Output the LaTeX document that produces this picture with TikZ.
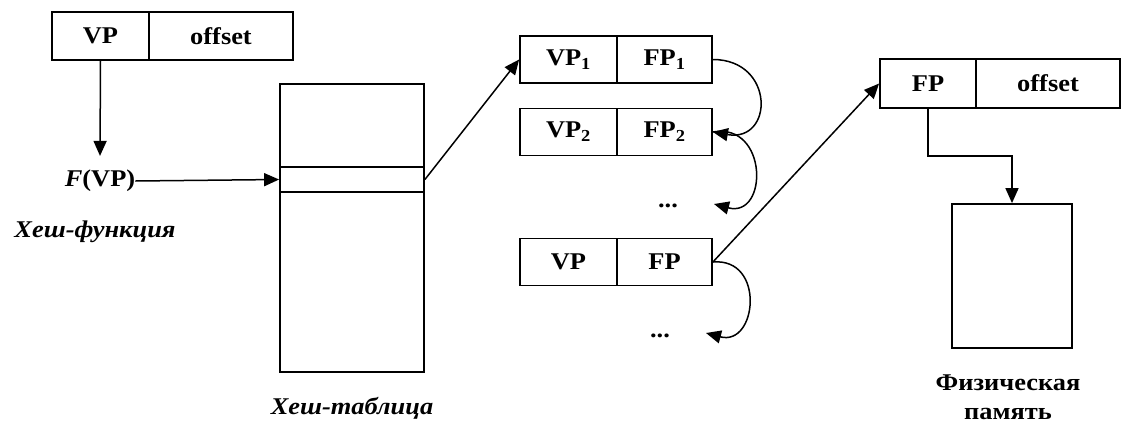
\documentclass[tikz,border=0pt]{standalone}
\usepackage{fontspec}
\setmainfont{Liberation Serif}[FakeStretch=1.1]
\usetikzlibrary{arrows.meta}
\begin{document}
\begin{tikzpicture}[x=1pt,y=-1pt,
  every node/.style={font=\fontsize{24}{29}\selectfont\bfseries},
  cell/.style={draw,line width=1.8pt,inner sep=0pt,minimum height=48pt},
  lbl/.style={inner sep=0pt},
  arr/.style={line width=1.5pt,-{Triangle[length=15pt,width=13pt]}},
  conn/.style={line width=1.5pt}]
\useasboundingbox (0,0) rectangle (1146,440);
% top-left address
\node[cell,minimum width=97pt] (vp) at (100.5,36) {VP};
\node[cell,minimum width=144pt] (off) at (221,36) {offset};
% hash table
\node[cell,minimum width=144pt,minimum height=288pt] (ht) at (352,228) {};
\node[cell,minimum width=144pt,minimum height=25pt] (row) at (352,179.5) {};
\node[lbl] (fvp) at (100,181) {\itshape F\upshape(VP)};
\node[lbl] (hf) at (95,232) {\itshape Хеш-функция};
\node[lbl] (htl) at (352,408) {\itshape Хеш-таблица};
% chain
\node[cell,minimum width=97pt,minimum height=47pt] (vp1) at (568.5,59.5) {VP\textsubscript{1}};
\node[cell,minimum width=95pt,minimum height=47pt] (fp1) at (664.5,59.5) {FP\textsubscript{1}};
\node[cell,minimum width=97pt,minimum height=47pt] (vp2) at (568.5,132) {VP\textsubscript{2}};
\node[cell,minimum width=95pt,minimum height=47pt] (fp2) at (664.5,132) {FP\textsubscript{2}};
\node[lbl] (d1) at (668,206) {...};
\node[cell,minimum width=97pt,minimum height=47pt] (vp3) at (568.5,262) {VP};
\node[cell,minimum width=95pt,minimum height=47pt] (fp3) at (664.5,262) {FP};
\node[lbl] (d2) at (660,336) {...};
\coordinate (t1) at (714,204);
\coordinate (t2) at (706,333);
% physical address
\node[cell,minimum width=96pt,minimum height=49pt] (fpr) at (928,83.5) {FP};
\node[cell,minimum width=144pt,minimum height=49pt] (offr) at (1048,83.5) {offset};
\node[cell,minimum width=120pt,minimum height=144pt] (mem) at (1012,276) {};
\node[lbl,align=center] (ml) at (1008,397) {Физическая\\память};
% connectors
\draw[arr] (vp.south) -- ([yshift=14pt]fvp.north);
\draw[arr] (fvp.east) -- (row.west);
\draw[arr] (row.east) -- (vp1.west);
\draw[arr] (fp1.east) to[out=0,in=-10,looseness=2.2] (fp2.east);
\draw[arr] (fp2.east) to[out=10,in=-15,looseness=2.0] (t1);
\draw[arr] (fp3.east) to[out=5,in=-15,looseness=1.9] (t2);
\draw[arr] (fp3.east) -- (fpr.west);
\draw[arr] (fpr.south) -- ++(0,47) -| (mem.north);
\end{tikzpicture}
\end{document}
